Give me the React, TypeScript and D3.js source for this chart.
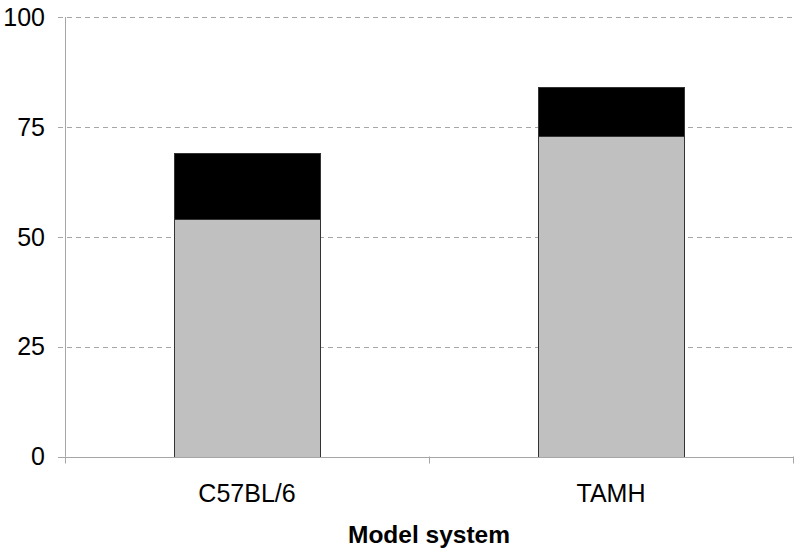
import React from "react";
import * as d3 from "d3";

const categories = ["C57BL/6", "TAMH"];
const lowerValues = [54, 73];
const upperValues = [15, 11];
const yTicks = [0, 25, 50, 75, 100];

const width = 800;
const height = 556;
const margin = { top: 17, right: 7, bottom: 100, left: 65 };

export default function App() {
  const x = d3
    .scaleBand<string>()
    .domain(categories)
    .range([margin.left, width - margin.right])
    .paddingInner(0.6)
    .paddingOuter(0.3);
  const outer = d3
    .scaleBand<string>()
    .domain(categories)
    .range([margin.left, width - margin.right])
    .padding(0);
  const y = d3
    .scaleLinear()
    .domain([0, 100])
    .range([height - margin.bottom + 0.5, margin.top]);

  const stacked = d3.stack<any>().keys(["lower", "upper"])(
    categories.map((c, i) => ({ cat: c, lower: lowerValues[i], upper: upperValues[i] }))
  );
  const fills = ["#c0c0c0", "#000000"];
  const x0 = margin.left;
  const x1 = width - margin.right;
  const axisColor = "#a6a6a6";

  return (
    <svg width={width} height={height} style={{ position: "absolute", left: 0, top: 0 }}
      fontFamily="Liberation Sans, Arial, sans-serif">
      {/* grid + y ticks */}
      {yTicks.map((t) => (
        <g key={t}>
          {t > 0 && (
            <line x1={x0 - 7} x2={x1} y1={Math.round(y(t)) + 0.5} y2={Math.round(y(t)) + 0.5}
              stroke={axisColor} strokeDasharray="5,4" />
          )}
          <text x={45} y={y(t)} dy="0.35em" textAnchor="end" fontSize={25} fill="#000">{t}</text>
        </g>
      ))}
      {/* bars */}
      {stacked.map((layer, li) =>
        layer.map((d, i) => (
          <rect key={li + "-" + i}
            x={Math.round(x(categories[i])!) + 0.5}
            y={Math.round(y(d[1])) + 0.5}
            width={Math.round(x.bandwidth())}
            height={Math.round(y(d[0])) - Math.round(y(d[1]))}
            fill={fills[li]} stroke="#333" strokeWidth={1} />
        ))
      )}
      {/* y axis */}
      <line x1={x0 + 0.5} x2={x0 + 0.5} y1={y(100)} y2={y(0)} stroke={axisColor} />
      <line x1={x0 - 7} x2={x0} y1={Math.round(y(0)) + 0.5} y2={Math.round(y(0)) + 0.5} stroke={axisColor} />
      {/* x axis */}
      <line x1={x0} x2={x1} y1={Math.round(y(0)) + 0.5} y2={Math.round(y(0)) + 0.5} stroke={axisColor} />
      {[x0, outer(categories[1])!, x1].map((px, i) => (
        <line key={i} x1={Math.round(px) + 0.5} x2={Math.round(px) + 0.5}
          y1={y(0)} y2={y(0) + 7} stroke={axisColor} />
      ))}
      {categories.map((c) => (
        <text key={c} x={outer(c)! + outer.bandwidth() / 2} y={502} textAnchor="middle" fontSize={25}>
          {c}
        </text>
      ))}
      <text x={(x0 + x1) / 2} y={543} textAnchor="middle" fontSize={24.5} fontWeight="bold">
        Model system
      </text>
    </svg>
  );
}
